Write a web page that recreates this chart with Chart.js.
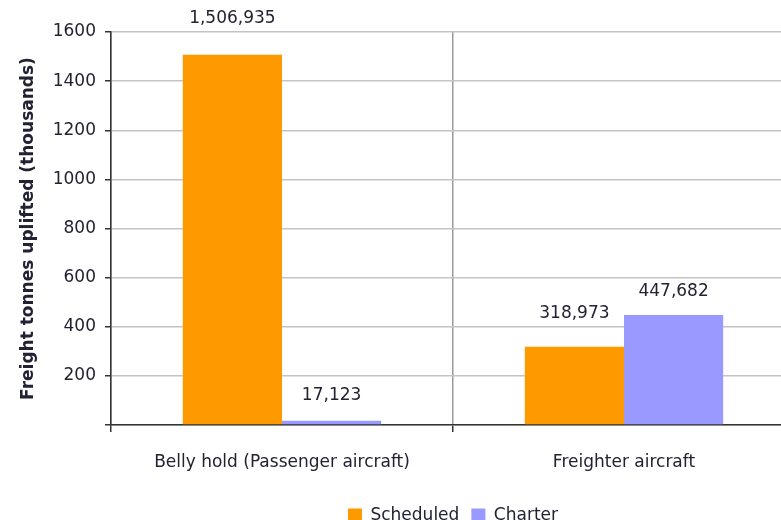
<!DOCTYPE html>
<html>
<head>
<meta charset="utf-8">
<script src="https://cdn.jsdelivr.net/npm/chart.js@4"></script>
<style>
  html, body { margin: 0; padding: 0; background: #fff; overflow: hidden; }
  #wrap { width: 781px; height: 520px; overflow: hidden; position: relative; }
  #box { width: 906px; height: 534px; position: absolute; left: 0; top: 0; }
</style>
</head>
<body>
<div id="wrap"><div id="box"><canvas id="c"></canvas></div></div>
<script>
const categories = ["Belly hold (Passenger aircraft)", "Freighter aircraft"];
const seriesNames = ["Scheduled", "Charter"];
const scheduled = [1506.935, 318.973];   // thousands of tonnes
const charter = [17.123, 447.682];       // thousands of tonnes
const yTicks = [0, 200, 400, 600, 800, 1000, 1200, 1400, 1600];

const FONT = "'DejaVu Sans', Verdana, sans-serif";
const TEXT = '#222233';

const valueLabels = {
  id: 'valueLabels',
  afterDatasetsDraw(chart, args, opts) {
    const ctx = chart.ctx;
    ctx.save();
    ctx.font = '17px ' + FONT;
    ctx.fillStyle = TEXT;
    ctx.textAlign = 'center';
    ctx.textBaseline = 'middle';
    chart.data.datasets.forEach((ds, di) => {
      chart.getDatasetMeta(di).data.forEach((bar, i) => {
        const v = ds.data[i];
        const txt = Math.round(v * 1000).toLocaleString('en-US');
        const off = opts.offsets[di][i];
        ctx.fillText(txt, bar.x, bar.y - off);
      });
    });
    ctx.restore();
  }
};

// centre the legend on the whole canvas rather than the padded area
const legendShift = {
  id: 'legendShift',
  afterLayout(chart) {
    const lg = chart.legend;
    if (!lg) return;
    const shift = (chart.width - (lg.left + lg.right)) / 2;
    lg.left += shift; lg.right += shift;
    if (lg.legendHitBoxes) lg.legendHitBoxes.forEach(h => { h.left += shift; });
  }
};

new Chart(document.getElementById('c'), {
  type: 'bar',
  data: {
    labels: categories,
    datasets: [
      { label: seriesNames[0], data: scheduled, backgroundColor: '#FF9900', borderWidth: 0 },
      { label: seriesNames[1], data: charter, backgroundColor: '#9999FF', borderWidth: 0 }
    ]
  },
  plugins: [valueLabels, legendShift],
  options: {
    responsive: true,
    maintainAspectRatio: false,
    animation: false,
    layout: { padding: { top: 32, right: 111, left: 0, bottom: 0 } },
    datasets: { bar: { categoryPercentage: 0.58, barPercentage: 1.0 } },
    scales: {
      x: {
        offset: true,
        grid: { display: true, offset: true, color: '#9a9a9a', lineWidth: 1.5, tickColor: '#333', tickLength: 7, drawOnChartArea: true },
        border: { color: '#333', width: 1.5 },
        ticks: { color: TEXT, font: { family: FONT, size: 17 }, padding: 20, maxRotation: 0 },
        afterFit: s => { s.height = 70; }
      },
      y: {
        min: 0, max: 1600,
        afterBuildTicks: s => { s.ticks = yTicks.map(v => ({ value: v })); },
        grid: { color: '#c4c4c4', lineWidth: 1.5, tickColor: '#333', tickLength: 6 },
        border: { color: '#333', width: 1.5 },
        ticks: { color: TEXT, font: { family: FONT, size: 17 }, padding: 9, callback: v => v === 0 ? '' : String(v) },
        title: { display: true, text: 'Freight tonnes uplifted (thousands)', color: TEXT, font: { family: FONT, size: 17, weight: 'bold' }, padding: { top: 18, bottom: 0 } },
        afterFit: s => { s.width = 111; }
      }
    },
    plugins: {
      legend: {
        position: 'bottom',
        labels: { color: TEXT, font: { family: FONT, size: 17 }, boxWidth: 14, boxHeight: 14, padding: 12, useBorderRadius: false }
      },
      tooltip: { enabled: false },
      valueLabels: { offsets: [[36, 33], [25, 23]] }
    }
  }
});
</script>
</body>
</html>
